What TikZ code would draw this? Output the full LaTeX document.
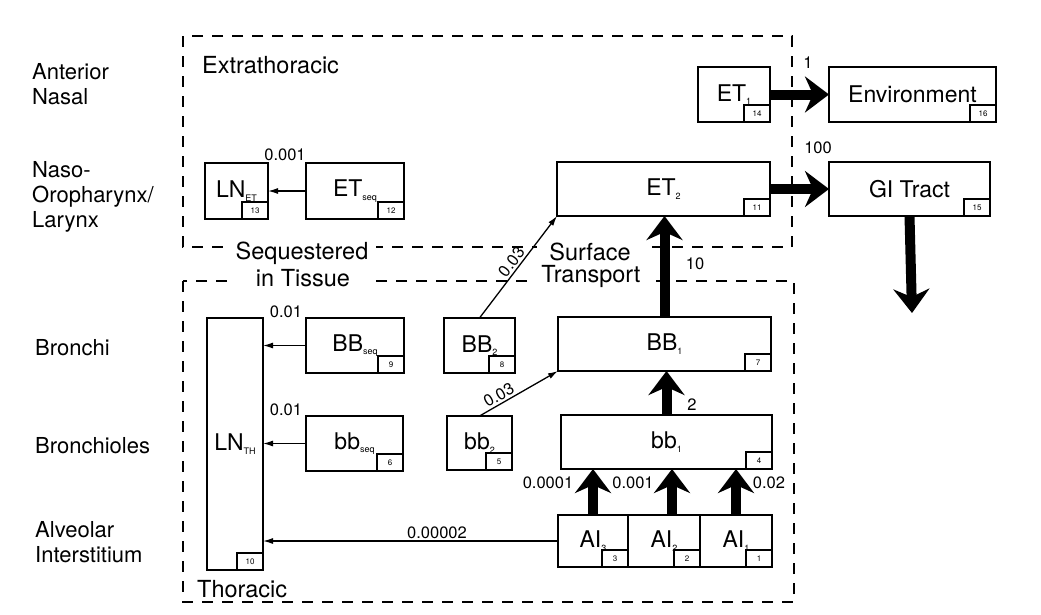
\documentclass[tikz,border=0pt]{standalone}
\usepackage{fontspec}
\setmainfont{TeX Gyre Heros}
\usetikzlibrary{arrows.meta,calc}
\newcommand\sbs[1]{\raisebox{-3.5pt}{\fontsize{9}{9}\selectfont #1}}
\newcommand\mybox[7]{%
  \node[box, minimum width={(#4-#2)*1pt}, minimum height={(#5-#3)*1pt}] (#1) at ({(#2+#4)/2},{(#3+#5)/2}) {#6};
  \node[numbox, anchor=south east] (#1n) at (#1.south east) {#7};
}
\begin{document}
\begin{tikzpicture}[x=1pt,y=-1pt,
  box/.style={draw, line width=1.4pt, rectangle, inner sep=0pt, outer sep=0pt, font=\fontsize{23}{26}\selectfont},
  numbox/.style={draw, line width=1.1pt, minimum width=26pt, minimum height=17pt, inner sep=0pt, outer sep=0pt, font=\fontsize{8}{8}\selectfont},
  zone/.style={dash pattern=on 11pt off 9pt, line width=1.2pt},
  zlabel/.style={font=\fontsize{23.5}{26}\selectfont, fill=white, inner ysep=1pt},
  side/.style={font=\fontsize{22}{25}\selectfont, align=left, anchor=north west, inner sep=0pt},
  rate/.style={font=\fontsize{16.5}{18}\selectfont, inner sep=1pt},
  big/.style={line width=10pt, -{Stealth[length=24pt,width=36pt,inset=8pt]}},
  thinarr/.style={line width=1.3pt, -{Latex[length=10pt,width=6pt]}},
]
\useasboundingbox (0,0) rectangle (1041,614);
\fill[white] (0,0) rectangle (1041,614);

% zones
\draw[zone] (183,36) rectangle (792,247);
\draw[zone] (183,281) rectangle (794,602);
\node[zlabel, anchor=west, inner sep=0pt] (zet) at (202,65) {Extrathoracic};
\node[zlabel, anchor=base west, inner sep=0pt] (zth) at (197,597) {Thoracic};
\node[zlabel, inner xsep=8pt] (zseq) at (302,253) {Sequestered};
\node[zlabel, inner xsep=26pt] (ztis) at (303,278) {in Tissue};
\node[zlabel, inner xsep=12pt] (zsur) at (590,252) {Surface};
\node[zlabel, inner xsep=8pt] (ztra) at (591,276) {Transport};

% side labels
\node[side] (s1) at (32,63) {Anterior\\Nasal};
\node[side] (s2) at (32,161) {Naso-\\Oropharynx/\\Larynx};
\node[side] (s3) at (35,339) {Bronchi};
\node[side] (s4) at (35,437) {Bronchioles};
\node[side] (s5) at (35,521) {Alveolar\\Interstitium};

% compartments
\mybox{ET1}{698}{67}{770}{122}{ET\sbs{1}}{14}
\mybox{Env}{829}{67}{996}{122}{Environment}{16}
\mybox{LNET}{205}{163}{268}{219}{LN\sbs{ET}}{13}
\mybox{ETseq}{306}{163}{404}{219}{ET\sbs{seq}}{12}
\mybox{ET2}{557}{162}{770}{216}{ET\sbs{2}}{11}
\mybox{GI}{829}{162}{990}{216}{GI Tract}{15}
\mybox{LNTH}{207}{318}{263}{570}{LN\sbs{TH}}{10}
\mybox{BBseq}{306}{318}{404}{373}{BB\sbs{seq}}{9}
\mybox{BB2}{444}{318}{515}{373}{BB\sbs{2}}{8}
\mybox{BB1}{558}{317}{771}{371}{BB\sbs{1}}{7}
\mybox{bbseq}{306}{416}{403}{471}{bb\sbs{seq}}{6}
\mybox{bb2}{447}{416}{512}{470}{bb\sbs{2}}{5}
\mybox{bb1}{561}{415}{772}{469}{bb\sbs{1}}{4}
\mybox{AI3}{558}{515}{628}{567}{AI\sbs{3}}{3}
\mybox{AI2}{628}{515}{700}{567}{AI\sbs{2}}{2}
\mybox{AI1}{700}{515}{772}{567}{AI\sbs{1}}{1}

\coordinate (out) at (912,313);
\coordinate (ai2top) at ([xshift=8pt]AI2.north);

% thick transfers
\draw[big] (ET1.east) -- (Env.west);
\draw[big] (ET2.east) -- (GI.west);
\draw[big] (GI.south) -- (out);
\draw[big] (BB1.north) -- (ET2.south -| BB1.north);
\draw[big] (bb1.north) -- (BB1.south -| bb1.north);
\draw[big] (AI3.north) -- (bb1.south -| AI3.north);
\draw[big] (ai2top) -- (bb1.south -| ai2top);
\draw[big] (AI1.north) -- (bb1.south -| AI1.north);

% thin transfers
\draw[thinarr] (ETseq.west) -- (LNET.east);
\draw[thinarr] (BBseq.west) -- (BBseq.west -| LNTH.east);
\draw[thinarr] (bbseq.west) -- (bbseq.west -| LNTH.east);
\draw[thinarr] (AI3.west) -- (AI3.west -| LNTH.east);
\draw[thinarr] (BB2.north) -- node[rate, sloped, above, pos=0.5, inner sep=2pt] (r03a) {0.03} (ET2.south west);
\draw[thinarr] (bb2.north) -- node[rate, sloped, above, pos=0.3, inner sep=2pt] (r03b) {0.03} (BB1.south west);

% rates
\node[rate] (r1) at (808,63) {1};
\node[rate] (r100) at (818,148) {100};
\node[rate] (r10) at (695,264) {10};
\node[rate] (r2) at (692,405) {2};
\node[rate] (r0001) at (548,483) {0.0001};
\node[rate] (r001) at (633,483) {0.001};
\node[rate] (r02) at (769,483) {0.02};
\node[rate] (r001et) at (285,155) {0.001};
\node[rate] (r01a) at (286,312) {0.01};
\node[rate] (r01b) at (286,410) {0.01};
\node[rate] (r00002) at (437,533) {0.00002};
\end{tikzpicture}
\end{document}
